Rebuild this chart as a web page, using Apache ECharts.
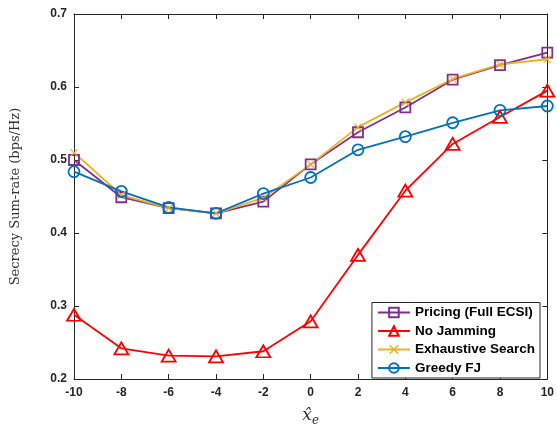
<!DOCTYPE html>
<html>
<head>
<meta charset="utf-8">
<script src="https://cdn.jsdelivr.net/npm/echarts@6/dist/echarts.min.js"></script>
<style>
  html, body { margin: 0; padding: 0; background: #fff; }
  #chart { width: 557px; height: 432px; }
</style>
</head>
<body>
<div id="chart"></div>
<script>
// Eavesdropper position estimate on the x axis
const xPositions = [-10, -8, -6, -4, -2, 0, 2, 4, 6, 8, 10];
// Secrecy sum-rate (bps/Hz) for each scheme
const pricingFull = [0.500, 0.449, 0.434, 0.427, 0.443, 0.494, 0.538, 0.572, 0.610, 0.630, 0.647];
const noJamming   = [0.288, 0.242, 0.232, 0.231, 0.238, 0.279, 0.370, 0.458, 0.522, 0.559, 0.595];
const exhaustive  = [0.510, 0.452, 0.434, 0.427, 0.448, 0.494, 0.545, 0.579, 0.611, 0.631, 0.638];
const greedyFJ    = [0.484, 0.457, 0.435, 0.427, 0.454, 0.476, 0.514, 0.532, 0.551, 0.568, 0.574];
const seriesNames = ['Pricing (Full ECSI)', 'No Jamming', 'Exhaustive Search', 'Greedy FJ'];

const axisColor = '#262626';
const tickFont = { fontFamily: 'Liberation Sans', fontWeight: 'bold', fontSize: 12, color: axisColor };
const crossPath = 'path://M0,1L1,0L5,4L9,0L10,1L6,5L10,9L9,10L5,6L1,10L0,9L4,5Z';

function pairs(ys) { return xPositions.map((x, i) => [x, ys[i]]); }

function lineSeries(name, ys, color, symbol, size, hollow) {
  return {
    name, type: 'line', data: pairs(ys),
    symbol, symbolSize: size,
    lineStyle: { color, width: 1.8 },
    itemStyle: hollow
      ? { color: 'rgba(255,255,255,0)', borderColor: color, borderWidth: 1.8 }
      : { color, borderWidth: 0 },
    emphasis: { disabled: true },
    animation: false
  };
}

const chart = echarts.init(document.getElementById('chart'), null, { renderer: 'canvas' });
chart.setOption({
  backgroundColor: '#fff',
  animation: false,
  grid: { left: 74, right: 7, top: 14, bottom: 43 },
  legend: {
    right: 17, bottom: 54, orient: 'vertical',
    itemWidth: 32, itemHeight: 12, itemGap: 4.5,
    padding: [3, 5, 3, 5],
    borderColor: axisColor, borderWidth: 1, backgroundColor: '#fff',
    textStyle: { fontFamily: 'Liberation Sans', fontWeight: 'bold', fontSize: 13.5, color: '#000' },
    data: seriesNames
  },
  xAxis: [{
    type: 'value', min: -10, max: 10, interval: 2,
    axisLine: { onZero: false, lineStyle: { color: axisColor, width: 1 } },
    axisTick: { inside: true, length: 5, lineStyle: { color: axisColor } },
    axisLabel: Object.assign({ margin: 8 }, tickFont),
    splitLine: { show: false },
    name: '{x|x̂}{sub|e}', nameLocation: 'middle', nameGap: 26,
    nameTextStyle: {
      rich: {
        x: { fontFamily: 'DejaVu Serif', fontStyle: 'italic', fontSize: 17, color: '#333' },
        sub: { fontFamily: 'DejaVu Serif', fontStyle: 'italic', fontSize: 12, color: '#333', padding: [10, 0, 0, 0] }
      }
    }
  }, {
    type: 'value', min: -10, max: 10, interval: 2, position: 'top',
    axisLine: { show: true, onZero: false, lineStyle: { color: axisColor, width: 1 } },
    axisTick: { inside: true, length: 5, lineStyle: { color: axisColor } },
    axisLabel: { show: false }, splitLine: { show: false }
  }],
  yAxis: [{
    type: 'value', min: 0.2, max: 0.7, interval: 0.1,
    axisLine: { show: true, onZero: false, lineStyle: { color: axisColor, width: 1 } },
    axisTick: { show: true, inside: true, length: 5, lineStyle: { color: axisColor } },
    axisLabel: Object.assign({ margin: 7, formatter: v => v.toFixed(1) }, tickFont),
    splitLine: { show: false },
    name: 'Secrecy Sum-rate (bps/Hz)', nameLocation: 'middle', nameGap: 52,
    nameTextStyle: { fontFamily: 'DejaVu Serif', fontSize: 13, color: '#333' }
  }, {
    type: 'value', min: 0.2, max: 0.7, interval: 0.1, position: 'right',
    axisLine: { show: true, onZero: false, lineStyle: { color: axisColor, width: 1 } },
    axisTick: { show: true, inside: true, length: 5, lineStyle: { color: axisColor } },
    axisLabel: { show: false }, splitLine: { show: false }
  }],
  series: [
    lineSeries(seriesNames[0], pricingFull, '#7E2F8E', 'rect', 10, true),
    lineSeries(seriesNames[1], noJamming, '#FF0000', 'triangle', [14, 12], true),
    lineSeries(seriesNames[2], exhaustive, '#EDB120', crossPath, 8, false),
    lineSeries(seriesNames[3], greedyFJ, '#0072BD', 'circle', 11, true)
  ]
});
</script>
</body>
</html>
